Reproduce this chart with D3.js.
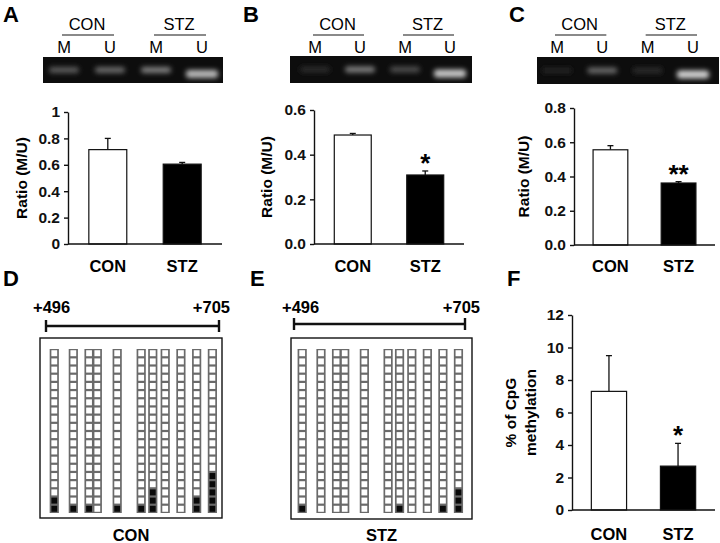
<!DOCTYPE html>
<html><head><meta charset="utf-8">
<script src="https://cdn.jsdelivr.net/npm/d3@7"></script>
<style>body{margin:0;background:#fff}svg{display:block;font-family:"Liberation Sans",Arial,sans-serif}</style>
</head><body><svg id="c" width="720" height="543"></svg>
<script>
// ---------- data ----------
const groups = ["CON", "STZ"];
const laneLabels = ["M", "U", "M", "U"];
const ratioA = [0.715, 0.605];
const ratioAErr = [0.085, 0.013];
const ratioB = [0.488, 0.309];
const ratioBErr = [0.007, 0.018];
const ratioC = [0.556, 0.362];
const ratioCErr = [0.024, 0.008];
const methPct = [7.3, 2.7];
const methPctErr = [2.2, 1.4];
const ticksA = [0, 0.2, 0.4, 0.6, 0.8, 1];
const ticksB = [0, 0.2, 0.4, 0.6];
const ticksC = [0, 0.2, 0.4, 0.6, 0.8];
const ticksF = [0, 2, 4, 6, 8, 10, 12];
const sigB = ["", "*"];
const sigC = ["", "**"];
const sigF = ["", "*"];
const regionStart = 496, regionEnd = 705;
const cpgPos = [506, 529, 548, 558, 582, 611, 625, 640, 659, 678, 697];
const conMethylated = [2, 1, 1, 0, 1, 1, 3, 0, 0, 2, 5];
const stzMethylated = [1, 0, 0, 0, 0, 0, 1, 0, 0, 1, 3];
const nClones = 20;
const gelA = [0.36, 0.42, 0.5, 0.72];
const gelB = [0.16, 0.5, 0.3, 0.78];
const gelC = [0.14, 0.42, 0.16, 0.82];

// ---------- drawing ----------
const svg = d3.select("#c");
const defs = svg.append("defs");
defs.append("filter").attr("id", "blur").attr("x", "-50%").attr("y", "-100%").attr("width", "200%").attr("height", "300%")
  .append("feGaussianBlur").attr("stdDeviation", 2.8);

function panelLabel(t, x, y) {
  svg.append("text").attr("x", x).attr("y", y).text(t)
    .attr("font-size", 22).attr("font-weight", "bold");
}

function gel(cfg) {
  const g = svg.append("g");
  const xl = d3.scalePoint().domain(d3.range(4)).range(cfg.lanes);
  groups.forEach((gr, i) => {
    const a = xl(i * 2), b = xl(i * 2 + 1);
    g.append("text").attr("x", (a + b) / 2).attr("y", cfg.gy).attr("text-anchor", "middle")
      .attr("font-size", 16.5).text(gr);
    g.append("line").attr("x1", a - 2).attr("x2", b + 4).attr("y1", cfg.gy + 5).attr("y2", cfg.gy + 5)
      .attr("stroke", "#8a8a8a").attr("stroke-width", 2);
  });
  laneLabels.forEach((l, i) => {
    g.append("text").attr("x", xl(i)).attr("y", cfg.gy + 23).attr("text-anchor", "middle")
      .attr("font-size", 16.5).text(l);
  });
  g.append("rect").attr("x", cfg.x0).attr("y", cfg.y0).attr("width", cfg.x1 - cfg.x0).attr("height", cfg.y1 - cfg.y0)
    .attr("fill", "#0d0d0d");
  cfg.bands.forEach((v, i) => {
    const c = Math.round(v * 255);
    const last = i === 3;
    g.append("rect").attr("x", xl(i) - (last ? 16 : 15)).attr("y", (cfg.y0 + cfg.y1) / 2 - 3 + (last ? 3 : 0))
      .attr("width", last ? 32 : 30).attr("height", last ? 8 : 6).attr("rx", 3)
      .attr("fill", `rgb(${c},${c},${c})`).attr("filter", "url(#blur)");
  });
}

function barChart(cfg) {
  const g = svg.append("g");
  const x = d3.scaleBand().domain(groups).range([cfg.x0, cfg.x1]).paddingInner(0.49).paddingOuter(0.28);
  const y = d3.scaleLinear().domain([0, cfg.max]).range([cfg.yb, cfg.yt]);
  const ax = g.append("g").attr("transform", `translate(${cfg.x0},0)`)
    .call(d3.axisLeft(y).tickValues(cfg.ticks).tickSize(4).tickSizeOuter(0).tickPadding(4).tickFormat(cfg.fmt));
  ax.select(".domain").attr("stroke", "#111").attr("stroke-width", 1.4);
  ax.selectAll(".tick line").attr("stroke", "#111").attr("stroke-width", 1.4);
  ax.selectAll(".tick text").attr("font-size", 15.5).attr("font-weight", "bold").attr("fill", "#111")
    .attr("font-family", "Liberation Sans, Arial, sans-serif");
  groups.forEach((gr, i) => {
    const v = cfg.values[i], e = cfg.errs[i];
    const cx = x(gr) + x.bandwidth() / 2;
    g.append("line").attr("x1", cx).attr("x2", cx).attr("y1", y(v)).attr("y2", y(v + e))
      .attr("stroke", "#111").attr("stroke-width", 1.3);
    g.append("line").attr("x1", cx - 3).attr("x2", cx + 3).attr("y1", y(v + e)).attr("y2", y(v + e))
      .attr("stroke", "#111").attr("stroke-width", 1.3);
    g.append("rect").attr("x", x(gr)).attr("y", y(v)).attr("width", x.bandwidth()).attr("height", y(0) - y(v))
      .attr("fill", i === 0 ? "#fff" : "#000").attr("stroke", "#111").attr("stroke-width", 1.2);
    if (cfg.sig && cfg.sig[i]) {
      g.append("text").attr("x", cx).attr("y", y(v + e) + 1).attr("text-anchor", "middle")
        .attr("font-size", 26).attr("font-weight", "bold").text(cfg.sig[i]);
    }
    g.append("text").attr("x", cx).attr("y", cfg.catY).attr("text-anchor", "middle")
      .attr("font-size", 16.5).attr("font-weight", "bold").text(gr);
  });
  g.append("line").attr("x1", cfg.x0).attr("x2", cfg.x1).attr("y1", y(0)).attr("y2", y(0))
    .attr("stroke", "#111").attr("stroke-width", 1.6);
  const cy = (cfg.yb + cfg.yt) / 2;
  cfg.label.forEach((t, k) => {
    g.append("text").attr("transform", `translate(${cfg.labelX[k]},${cy}) rotate(-90)`)
      .attr("text-anchor", "middle").attr("font-size", 15.5).attr("font-weight", "bold").text(t);
  });
}

function methMap(cfg) {
  const g = svg.append("g");
  const x = d3.scaleLinear().domain([regionStart, regionEnd]).range([cfg.bx0, cfg.bx1]);
  const yc = d3.scaleBand().domain(d3.range(nClones)).range([cfg.cy0, cfg.cy1]).paddingInner(0.27).paddingOuter(0.15);
  g.append("text").attr("x", cfg.lx0).attr("y", cfg.ly).attr("font-size", 16.5).attr("font-weight", "bold").text("+" + regionStart);
  g.append("text").attr("x", cfg.lx1).attr("y", cfg.ly).attr("text-anchor", "end").attr("font-size", 16.5).attr("font-weight", "bold").text("+" + regionEnd);
  g.append("line").attr("x1", x(regionStart)).attr("x2", x(regionEnd)).attr("y1", cfg.by).attr("y2", cfg.by)
    .attr("stroke", "#111").attr("stroke-width", 2.4);
  [regionStart, regionEnd].forEach(p => {
    g.append("line").attr("x1", x(p)).attr("x2", x(p)).attr("y1", cfg.by - 6).attr("y2", cfg.by + 6)
      .attr("stroke", "#111").attr("stroke-width", 2.4);
  });
  g.append("rect").attr("x", cfg.box[0]).attr("y", cfg.box[1]).attr("width", cfg.box[2] - cfg.box[0])
    .attr("height", cfg.box[3] - cfg.box[1]).attr("fill", "none").attr("stroke", "#111").attr("stroke-width", 1.4);
  const w = 9.2, s = 5.8;
  cpgPos.forEach(p => {
    g.append("rect").attr("x", x(p) - w / 2).attr("y", cfg.cy0).attr("width", w).attr("height", cfg.cy1 - cfg.cy0)
      .attr("fill", "#6a6a6a");
  });
  cpgPos.forEach((p, j) => {
    d3.range(nClones).forEach(i => {
      const m = i >= nClones - cfg.meth[j];
      g.append("rect").attr("x", x(p) - s / 2).attr("y", yc(i)).attr("width", s).attr("height", yc.bandwidth())
        .attr("fill", m ? "#0a0a0a" : "#fff");
    });
  });
  g.append("text").attr("x", (cfg.box[0] + cfg.box[2]) / 2).attr("y", cfg.tY).attr("text-anchor", "middle")
    .attr("font-size", 16.5).attr("font-weight", "bold").text(cfg.title);
}

panelLabel("A", 3, 22); panelLabel("B", 243, 22); panelLabel("C", 509, 22);
panelLabel("D", 3, 286); panelLabel("E", 250, 286); panelLabel("F", 507, 286);

gel({ x0: 43, x1: 223, y0: 57, y1: 83, lanes: [64, 202], gy: 30, bands: gelA });
gel({ x0: 290, x1: 472, y0: 56, y1: 83, lanes: [315, 450], gy: 30, bands: gelB });
gel({ x0: 537, x1: 719, y0: 57, y1: 84, lanes: [557, 693], gy: 30, bands: gelC });

const fmt1 = d => d.toFixed(1);
barChart({ x0: 68, x1: 222, yb: 244, yt: 112, max: 1, ticks: ticksA, fmt: d => (d === 0 || d === 1) ? String(d) : d.toFixed(1),
  values: ratioA, errs: ratioAErr, catY: 272, label: ["Ratio (M/U)"], labelX: [27] });
barChart({ x0: 314, x1: 464, yb: 244, yt: 110, max: 0.6, ticks: ticksB, fmt: fmt1,
  values: ratioB, errs: ratioBErr, sig: sigB, catY: 272, label: ["Ratio (M/U)"], labelX: [272] });
barChart({ x0: 574, x1: 715, yb: 245, yt: 108, max: 0.8, ticks: ticksC, fmt: fmt1,
  values: ratioC, errs: ratioCErr, sig: sigC, catY: 272, label: ["Ratio (M/U)"], labelX: [529] });
barChart({ x0: 572, x1: 715, yb: 510, yt: 315, max: 12, ticks: ticksF, fmt: d3.format("d"),
  values: methPct, errs: methPctErr, sig: sigF, catY: 540, label: ["% of CpG", "methylation"], labelX: [516, 536] });

methMap({ bx0: 46, bx1: 219, by: 326, lx0: 33, lx1: 230, ly: 313, box: [40, 338, 222, 518], cy0: 349, cy1: 513,
  meth: conMethylated, title: "CON", tY: 541 });
methMap({ bx0: 294, bx1: 465, by: 324, lx0: 282, lx1: 480, ly: 313, box: [291, 338, 472, 519], cy0: 349, cy1: 513,
  meth: stzMethylated, title: "STZ", tY: 541 });
</script></body></html>
